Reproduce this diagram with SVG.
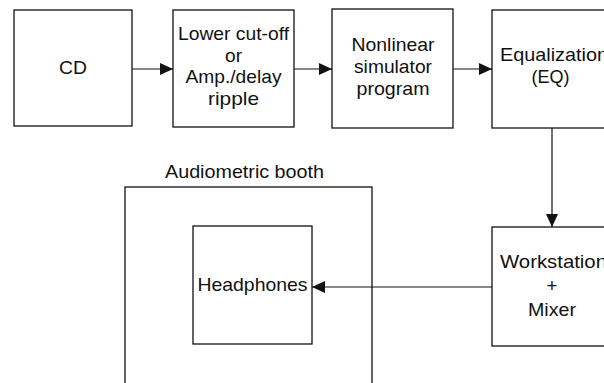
<svg xmlns="http://www.w3.org/2000/svg" width="604" height="383" viewBox="0 0 604 383">
<style>
.box{fill:#fff;stroke:#111;stroke-width:1.3}
.t{font-family:"Liberation Sans",Arial,Helvetica,sans-serif;font-size:18.5px;fill:#111;text-anchor:middle}
.c{stroke:#111;stroke-width:1.2;fill:none;marker-end:url(#ah)}
</style>
<defs>
<marker id="ah" viewBox="0 0 13 12" refX="13" refY="6" markerWidth="13" markerHeight="12" markerUnits="userSpaceOnUse" orient="auto">
<path d="M0,0 L13,6 L0,12 z" fill="#111"/>
</marker>
</defs>
<rect width="604" height="383" fill="#fff"/>
<g id="cd">
<rect class="box" x="14" y="10" width="118" height="116"/>
<text class="t" x="73" y="74" textLength="28" lengthAdjust="spacingAndGlyphs">CD</text>
</g>
<g id="cutoff">
<rect class="box" x="173" y="10" width="121" height="117"/>
<text class="t" x="233.5" y="40" textLength="111" lengthAdjust="spacingAndGlyphs">Lower cut-off</text>
<text class="t" x="233.5" y="61.5" textLength="17" lengthAdjust="spacingAndGlyphs">or</text>
<text class="t" x="233.5" y="83" textLength="96" lengthAdjust="spacingAndGlyphs">Amp./delay</text>
<text class="t" x="233.5" y="104.5" textLength="51" lengthAdjust="spacingAndGlyphs">ripple</text>
</g>
<g id="nonlinear">
<rect class="box" x="332" y="9" width="121" height="119"/>
<text class="t" x="393" y="51" textLength="83" lengthAdjust="spacingAndGlyphs">Nonlinear</text>
<text class="t" x="393" y="73" textLength="78" lengthAdjust="spacingAndGlyphs">simulator</text>
<text class="t" x="393" y="95" textLength="73" lengthAdjust="spacingAndGlyphs">program</text>
</g>
<g id="eq">
<rect class="box" x="492" y="10" width="130" height="118"/>
<text class="t" x="500" y="61" style="text-anchor:start" textLength="108" lengthAdjust="spacingAndGlyphs">Equalization</text>
<text class="t" x="550.5" y="83" textLength="38" lengthAdjust="spacingAndGlyphs">(EQ)</text>
</g>
<g id="workstation">
<rect class="box" x="492" y="227" width="130" height="119"/>
<text class="t" x="500" y="268" style="text-anchor:start" textLength="107" lengthAdjust="spacingAndGlyphs">Workstation</text>
<text class="t" x="552" y="292">+</text>
<text class="t" x="552" y="316" textLength="48" lengthAdjust="spacingAndGlyphs">Mixer</text>
</g>
<g id="booth">
<rect class="box" x="125" y="187" width="247" height="210"/>
<text class="t" x="244.5" y="178" textLength="159" lengthAdjust="spacingAndGlyphs">Audiometric booth</text>
</g>
<g id="headphones">
<rect class="box" x="193" y="226" width="119" height="118"/>
<text class="t" x="252.5" y="291" textLength="110" lengthAdjust="spacingAndGlyphs">Headphones</text>
</g>
<g id="connectors">
<line class="c" x1="132" y1="69" x2="173" y2="69"/>
<line class="c" x1="294" y1="69" x2="332" y2="69"/>
<line class="c" x1="453" y1="69" x2="492" y2="69"/>
<line class="c" x1="552" y1="128" x2="552" y2="227"/>
<line class="c" x1="492" y1="287" x2="312" y2="287"/>
</g>
</svg>
